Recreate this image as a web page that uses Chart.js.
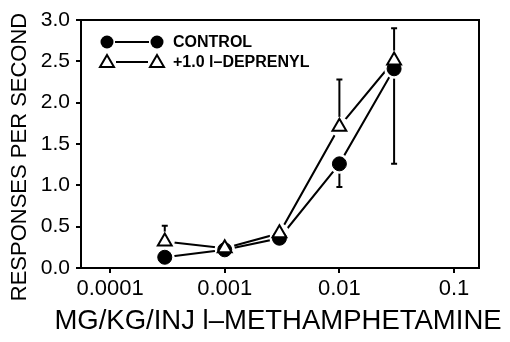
<!DOCTYPE html>
<html>
<head>
<meta charset="utf-8">
<script src="https://cdn.jsdelivr.net/npm/chart.js@4.4.0/dist/chart.umd.min.js"></script>
<style>
  body { margin: 0; background: #fff; }
  canvas { display: block; }
</style>
</head>
<body>
<canvas id="doseChart" width="510" height="342"></canvas>
<script>
// doses (mg/kg/inj)
const doses = [0.0003, 0.001, 0.003, 0.01, 0.03];
const controlVals = [0.13, 0.22, 0.36, 1.26, 2.41];
const deprenylVals = [0.32, 0.24, 0.42, 1.71, 2.51];
// error bars: control drawn downward, deprenyl upward
const controlErr = [0, 0, 0, 0.28, 1.15];
const deprenylErr = [0.19, 0, 0, 0.57, 0.39];
const xTickVals = [0.0001, 0.001, 0.01, 0.1];
const xTickLabels = ['0.0001', '0.001', '0.01', '0.1'];
const yTicks = [0, 0.5, 1.0, 1.5, 2.0, 2.5, 3.0];

const toPts = vals => doses.map((d, i) => ({ x: d, y: vals[i] }));

const extras = {
    id: 'extras',
    beforeDatasetsDraw(chart) {
        const ctx = chart.ctx;
        const xs = chart.scales.x, ys = chart.scales.y;
        ctx.save();
        ctx.strokeStyle = '#000';
        ctx.lineWidth = 2;
        const bar = (d, v, e, dir) => {
            if (!e) return;
            const px = xs.getPixelForValue(d);
            const y0 = ys.getPixelForValue(v);
            const y1 = ys.getPixelForValue(v + dir * e);
            ctx.beginPath();
            ctx.moveTo(px, y0); ctx.lineTo(px, y1);
            ctx.moveTo(px - 3, y1); ctx.lineTo(px + 3, y1);
            ctx.stroke();
        };
        doses.forEach((d, i) => {
            bar(d, controlVals[i], controlErr[i], -1);
            bar(d, deprenylVals[i], deprenylErr[i], 1);
        });
        ctx.restore();
    },
    afterDraw(chart) {
        const ctx = chart.ctx;
        const a = chart.chartArea;
        ctx.save();
        ctx.strokeStyle = '#000';
        ctx.lineWidth = 2;
        ctx.strokeRect(a.left, a.top, a.right - a.left, a.bottom - a.top);

        // axis titles
        ctx.fillStyle = '#000';
        ctx.textAlign = 'center';
        ctx.textBaseline = 'middle';
        ctx.font = '27.5px "Liberation Sans", Arial, sans-serif';
        ctx.fillText('MG/KG/INJ l\u2013METHAMPHETAMINE', 278, 321);
        ctx.save();
        ctx.translate(20, 157);
        ctx.rotate(-Math.PI / 2);
        ctx.font = '22px "Liberation Sans", Arial, sans-serif';
        ctx.fillText('RESPONSES PER SECOND', 0, 0);
        ctx.restore();

        // legend
        ctx.lineWidth = 2;
        ctx.beginPath();
        ctx.moveTo(115, 42); ctx.lineTo(149, 42);
        ctx.moveTo(116, 62); ctx.lineTo(148, 62);
        ctx.stroke();
        [107, 157].forEach(cx => {
            ctx.beginPath();
            ctx.arc(cx, 42, 6.5, 0, Math.PI * 2);
            ctx.fill();
            ctx.beginPath();
            ctx.moveTo(cx, 55); ctx.lineTo(cx + 7, 67); ctx.lineTo(cx - 7, 67);
            ctx.closePath();
            ctx.stroke();
        });
        ctx.textAlign = 'left';
        ctx.font = 'bold 16px "Liberation Sans", Arial, sans-serif';
        ctx.fillText('CONTROL', 173, 43);
        ctx.fillText('+1.0 l\u2013DEPRENYL', 173, 63);
        ctx.restore();
    }
};

new Chart(document.getElementById('doseChart').getContext('2d'), {
    type: 'line',
    data: {
        datasets: [
            {
                label: 'CONTROL',
                data: toPts(controlVals),
                borderColor: '#000',
                borderWidth: 2,
                pointRadius: 0,
                order: 4
            },
            {
                label: '+1.0 l-DEPRENYL',
                data: toPts(deprenylVals),
                borderColor: '#000',
                borderWidth: 2,
                pointRadius: 0,
                order: 4
            },
            {
                label: 'halo',
                data: toPts(controlVals).concat(toPts(deprenylVals)),
                showLine: false,
                pointRadius: 10,
                pointBorderWidth: 0,
                pointBackgroundColor: '#fff',
                pointBorderColor: '#fff',
                order: 3
            },
            {
                label: 'CONTROL pts',
                data: toPts(controlVals),
                showLine: false,
                pointStyle: 'circle',
                pointRadius: 7,
                pointBackgroundColor: '#000',
                pointBorderColor: '#000',
                order: 2
            },
            {
                label: 'DEPRENYL pts',
                data: toPts(deprenylVals),
                showLine: false,
                pointStyle: 'triangle',
                pointRadius: 8,
                pointBorderWidth: 2,
                pointBackgroundColor: '#fff',
                pointBorderColor: '#000',
                order: 1
            }
        ]
    },
    options: {
        responsive: false,
        animation: false,
        layout: { padding: { top: 20, right: 31, left: 0, bottom: 0 } },
        plugins: { legend: { display: false }, tooltip: { enabled: false } },
        scales: {
            x: {
                type: 'logarithmic',
                min: 0.0000558,
                max: 0.165,
                afterBuildTicks: scale => { scale.ticks = xTickVals.map(v => ({ value: v })); },
                afterFit: scale => { scale.height = 74; },
                grid: { drawOnChartArea: false, tickLength: 5, color: '#000', lineWidth: 2 },
                border: { color: '#000', width: 2 },
                ticks: {
                    color: '#000',
                    padding: 3,
                    maxRotation: 0,
                    font: { family: '"Liberation Sans", Arial, sans-serif', size: 22 },
                    callback: v => xTickLabels[xTickVals.indexOf(v)] || ''
                }
            },
            y: {
                min: 0,
                max: 3,
                afterBuildTicks: scale => { scale.ticks = yTicks.map(v => ({ value: v })); },
                afterFit: scale => { scale.width = 81; },
                grid: { drawOnChartArea: false, tickLength: 5, color: '#000', lineWidth: 2 },
                border: { color: '#000', width: 2 },
                ticks: {
                    color: '#000',
                    padding: 6,
                    font: { family: '"Liberation Sans", Arial, sans-serif', size: 21 },
                    callback: v => v.toFixed(1)
                }
            }
        }
    },
    plugins: [extras]
});
</script>
</body>
</html>
